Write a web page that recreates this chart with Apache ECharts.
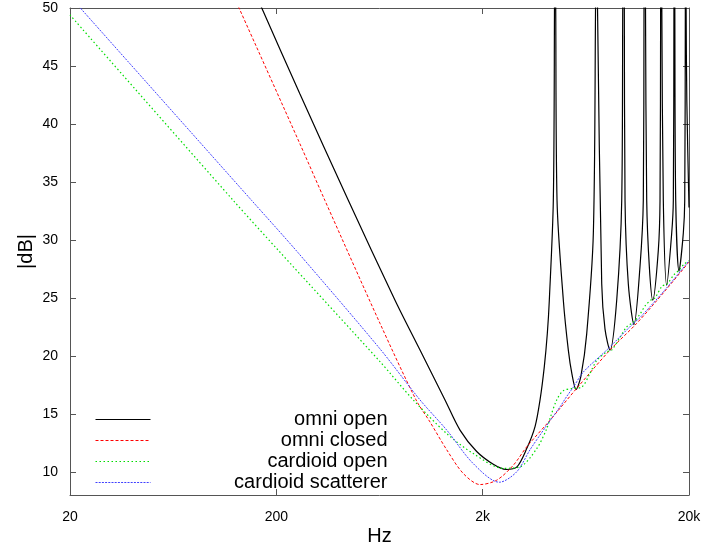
<!DOCTYPE html>
<html>
<head>
<meta charset="utf-8">
<script src="https://cdn.jsdelivr.net/npm/echarts@6/dist/echarts.min.js"></script>
<style>
  html, body { margin: 0; padding: 0; background: #fff; }
  #chart { width: 723px; height: 544px; }
</style>
</head>
<body>
<div id="chart"></div>
<script>
// tick values
const xTicks = [20, 200, 2000, 20000];
const yTicks = [10, 15, 20, 25, 30, 35, 40, 45, 50];

// [Hz, dB]
const omniOpen = [
    [160, 51.1], [170, 50], [260, 42.6], [447, 33.4], [752, 24.8], [994, 20.5], [1314, 16.2],
    [1553, 13.6], [1871, 11.75], [2252, 10.65], [2596, 10.2], [2924, 10.4], [3270, 12.0],
    [3588, 13.9], [3794, 16.2], [3978, 19.05], [4114, 21.9], [4208, 24.8], [4400, 33.4],
    [4458, 50], [4482, 62], [4520, 50], [4586, 33.4], [4920, 24.8], [5202, 20.5], [5420, 18.4],
    [5670, 17.1], [5994, 18.3], [6386, 21.9], [6878, 30.6], [7048, 50], [7126, 62], [7206, 50],
    [7552, 26.2], [7834, 22.3], [8282, 20.5], [8926, 24.8], [9440, 33.4], [9548, 50], [9632, 62],
    [9718, 50], [9794, 33.4], [10162, 26.2], [10828, 22.7], [11576, 27.7], [12010, 33.4],
    [12106, 50], [12200, 62], [12310, 50], [12476, 33.4], [12844, 27.7], [13342, 24.8],
    [14200, 29.1], [14474, 33.4], [14572, 50], [14670, 62], [14768, 50], [15016, 33.4],
    [15596, 26.1], [16492, 30.6], [16790, 33.4], [16904, 50], [16978, 62], [17072, 50],
    [17246, 33.4], [17892, 27.3], [18774, 30.6], [19070, 33.4], [19198, 50], [19282, 62],
    [19366, 50], [19520, 42], [20000, 32.8]
];
const omniClosed = [
    [125, 50.9], [131.9, 50], [260, 38.3], [344, 33.4], [636, 22.8], [951, 16.2], [1111, 14.3],
    [1339, 11.9], [1612, 9.85], [1942, 8.9], [2340, 9.28], [2816, 10.57], [3270, 12.15],
    [4240, 14.45], [5712, 17.2], [8282, 20.5], [11152, 22.8], [15308, 25.6], [20000, 28.1]
];
const cardioidOpen = [
    [20, 49.4], [123.7, 33.4], [204.5, 29.1], [636, 19.5], [922, 16.2], [1339, 13.3],
    [1802, 11.57], [2518, 10.3], [3034, 10.43], [3656, 12.0], [4086, 13.7], [4240, 14.6],
    [4568, 16.2], [4920, 17.0], [5500, 17.2], [6040, 17.3], [6626, 18.5], [7140, 19.6],
    [7984, 20.35], [8442, 20.5], [9264, 21.6], [9980, 22.5], [10744, 22.9], [11576, 23.6],
    [12240, 24.3], [13236, 24.9], [13688, 25.0], [14798, 26.0], [15646, 26.2], [16918, 27.0],
    [17892, 27.4], [18916, 27.9], [20000, 28.2]
];
const cardioidScatterer = [
    [20, 51.0], [151.9, 33.4], [254.8, 28.9], [636, 20.6], [994, 16.2], [1339, 13.6],
    [1802, 10.7], [2410, 9.1], [2924, 10.0], [3392, 11.9], [4086, 14.0], [4400, 14.8],
    [4742, 15.6], [5110, 16.5], [5500, 17.3], [6148, 18.6], [7984, 20.5], [10744, 22.8],
    [11576, 23.3], [15308, 25.7], [20000, 28.2]
];

const FONT = 'Liberation Sans';
const AXIS_COLOR = '#555';

const chart = echarts.init(document.getElementById('chart'), null, { renderer: 'canvas' });

function hzLabel(v) {
    const r = Math.round(v);
    return r >= 1000 ? Math.round(r / 1000) + 'k' : String(r);
}

function mkLine(name, data, color, type, width) {
    return {
        name: name,
        type: 'line',
        data: data,
        symbol: 'none',
        showSymbol: false,
        smooth: 0.3,
        clip: true,
        lineStyle: { color: color, width: width, type: type },
        itemStyle: { color: color },
        emphasis: { disabled: true }
    };
}

const tickStyle = { show: true, inside: true, length: 6, lineStyle: { color: AXIS_COLOR, width: 1 } };

const option = {
    animation: false,
    backgroundColor: '#fff',
    grid: { left: 70, right: 34, top: 8, bottom: 49, outerBoundsMode: 'none' },
    legend: {
        orient: 'vertical',
        left: 95,
        top: 409,
        padding: 0,
        itemWidth: 55,
        itemHeight: 12,
        itemGap: 0,
        selectedMode: false,
        itemStyle: { opacity: 0 },
        lineStyle: { width: 1 },
        data: ['omni open', 'omni closed', 'cardioid open', 'cardioid scatterer'],
        formatter: function (name) { return '{t|' + name + '}'; },
        textStyle: {
            rich: {
                t: { width: 232, align: 'right', fontSize: 20, height: 21, lineHeight: 21, fontFamily: FONT, color: '#000' }
            }
        }
    },
    xAxis: [
        {
            type: 'log', logBase: 10, min: 20, max: 20000,
            name: 'Hz', nameLocation: 'middle', nameGap: 31, nameMoveOverlap: false,
            nameTextStyle: { fontFamily: FONT, fontSize: 20, color: '#000' },
            axisLine: { lineStyle: { color: AXIS_COLOR, width: 1 } },
            axisTick: Object.assign({ customValues: xTicks }, tickStyle),
            axisLabel: {
                customValues: xTicks, margin: 15, fontFamily: FONT, fontSize: 14, color: '#000',
                formatter: hzLabel
            },
            minorTick: { show: false },
            splitLine: { show: false }
        },
        {
            type: 'log', logBase: 10, min: 20, max: 20000, position: 'top',
            axisLine: { lineStyle: { color: AXIS_COLOR, width: 1 } },
            axisTick: Object.assign({ customValues: xTicks }, tickStyle),
            axisLabel: { show: false },
            splitLine: { show: false }
        }
    ],
    yAxis: [
        {
            type: 'value', min: 8, max: 50,
            name: '|dB|', nameLocation: 'middle', nameGap: 34, nameRotate: 90, nameMoveOverlap: false,
            nameTextStyle: { fontFamily: FONT, fontSize: 20, color: '#000' },
            axisLine: { show: true, lineStyle: { color: AXIS_COLOR, width: 1 } },
            axisTick: Object.assign({ customValues: yTicks }, tickStyle),
            axisLabel: { customValues: yTicks, margin: 12, fontFamily: FONT, fontSize: 14, color: '#000' },
            splitLine: { show: false }
        },
        {
            type: 'value', min: 8, max: 50, position: 'right',
            axisLine: { show: true, lineStyle: { color: AXIS_COLOR, width: 1 } },
            axisTick: Object.assign({ customValues: yTicks }, tickStyle),
            axisLabel: { show: false },
            splitLine: { show: false }
        }
    ],
    series: [
        mkLine('omni open', omniOpen, '#000000', 'solid', 1.2),
        mkLine('omni closed', omniClosed, '#ff0000', [3, 2], 1),
        mkLine('cardioid open', cardioidOpen, '#00dd00', [1.5, 2.5], 1.2),
        mkLine('cardioid scatterer', cardioidScatterer, '#4040ff', [2, 1.2], 1)
    ]
};

chart.setOption(option);
</script>
</body>
</html>
